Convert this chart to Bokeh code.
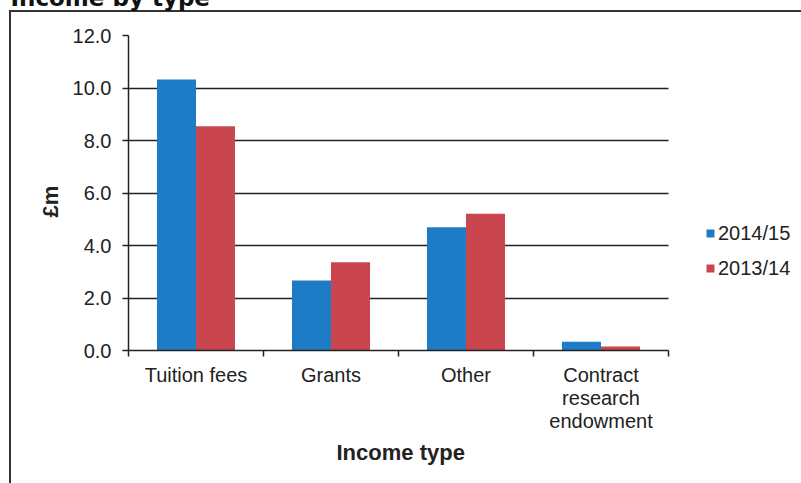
from bokeh.plotting import figure
from bokeh.models import (ColumnDataSource, Range1d, FixedTicker, Legend, LegendItem, Title)
from bokeh.transform import dodge
from bokeh.embed import file_html
from bokeh.resources import INLINE

categories = ["Tuition fees", "Grants", "Other", "Contract\nresearch\nendowment"]
series_names = ["2014/15", "2013/14"]
values_2014_15 = [10.32, 2.67, 4.70, 0.33]
values_2013_14 = [8.54, 3.36, 5.21, 0.15]
y_ticks = [0, 2, 4, 6, 8, 10, 12]
colors = ["#1E7BC6", "#C9464F"]

FONT = "Liberation Sans"
TXT = "#222222"
E = 60  # part of the canvas hidden above the window (title is cut off there)
W, H = 801, 483
LEFT, RIGHT_PAD = 128, 5
CAT_PX = 540  # pixel width of the category area
n = len(categories)
x_end = n * (W - RIGHT_PAD - LEFT) / CAT_PX  # frame extends right to host the legend

centers = [i + 0.5 for i in range(n)]
boundaries = list(range(n + 1))

src = ColumnDataSource(dict(x=centers, a=values_2014_15, b=values_2013_14))

p = figure(width=W, height=H + E, output_backend="svg", toolbar_location=None,
           x_range=Range1d(0, x_end), y_range=Range1d(0, 12),
           min_border_left=LEFT, min_border_right=RIGHT_PAD, min_border_top=35 + E,
           min_border_bottom=133, background_fill_color="white",
           border_fill_color=None)
p.outline_line_color = None
p.styles = {
    "margin-top": f"-{E}px",
    "background-color": "white",
    "background-image": "linear-gradient(#333333, #333333), linear-gradient(#333333, #333333)",
    "background-size": "2px 100%, 100% 2px",
    "background-position": f"9px {E + 10}px, 9px {E + 10}px",
    "background-repeat": "no-repeat",
}

bw = 0.289
r1 = p.vbar(x=dodge("x", -bw / 2, range=p.x_range), top="a", width=bw, source=src,
            fill_color=colors[0], line_color=None)
r2 = p.vbar(x=dodge("x", bw / 2, range=p.x_range), top="b", width=bw, source=src,
            fill_color=colors[1], line_color=None)

# grid
p.xgrid.grid_line_color = None
p.ygrid.ticker = FixedTicker(ticks=y_ticks)
p.ygrid.grid_line_color = "#222222"
p.ygrid.grid_line_width = 1.5
p.ygrid.cross_bounds = (0, n)

# y axis
ya = p.yaxis[0]
ya.ticker = FixedTicker(ticks=y_ticks)
ya.major_label_overrides = {t: f"{t:.1f}" for t in y_ticks}
ya.axis_line_color = "#222222"
ya.axis_line_width = 1.5
ya.major_tick_line_color = "#222222"
ya.major_tick_line_width = 1.5
ya.major_tick_out = 6
ya.major_tick_in = 0
ya.minor_tick_line_color = None
ya.major_label_text_font = FONT
ya.major_label_text_font_size = "20px"
ya.major_label_text_color = TXT
ya.major_label_standoff = 11

# x axis
xa = p.xaxis[0]
xa.bounds = (0, n)
xa.ticker = FixedTicker(ticks=centers, minor_ticks=boundaries)
xa.major_label_overrides = {c: name for c, name in zip(centers, categories)}
xa.axis_line_color = "#222222"
xa.axis_line_width = 1.5
xa.major_tick_line_color = None
xa.major_tick_out = 0
xa.major_tick_in = 0
xa.minor_tick_line_color = "#222222"
xa.minor_tick_line_width = 1.5
xa.minor_tick_out = 6
xa.minor_tick_in = 0
xa.major_label_text_font = FONT
xa.major_label_text_font_size = "20px"
xa.major_label_text_line_height = 1.05
xa.major_label_text_color = TXT
xa.major_label_standoff = 7

# axis titles (placed as titles so they centre on the category area, not the frame)
x_title = Title(text="Income type", align="left", offset=208, standoff=10,
                vertical_align="top", text_font=FONT, text_font_style="bold",
                text_font_size="22px", text_color=TXT)
p.add_layout(x_title, "below")

y_title = Title(text="£m", align="left", offset=133, standoff=14,
                vertical_align="bottom", text_font=FONT, text_font_style="bold",
                text_font_size="22px", text_color=TXT)
p.add_layout(y_title, "left")

legend = Legend(items=[LegendItem(label=series_names[0], renderers=[r1]),
                       LegendItem(label=series_names[1], renderers=[r2])],
                location=(577, 70), border_line_color=None,
                background_fill_alpha=0, padding=0, margin=0,
                glyph_width=10, glyph_height=10, label_height=24, spacing=11,
                label_standoff=3, label_text_font=FONT,
                label_text_font_size="20px", label_text_color=TXT)
p.add_layout(legend, "center")

title = Title(text="Income by type", align="left", offset=-118, standoff=50,
              vertical_align="bottom", text_font="DejaVu Sans",
              text_font_style="bold", text_font_size="23px", text_color="#111111")
p.add_layout(title, "above")

open("out.html", "w").write(file_html(p, INLINE))
